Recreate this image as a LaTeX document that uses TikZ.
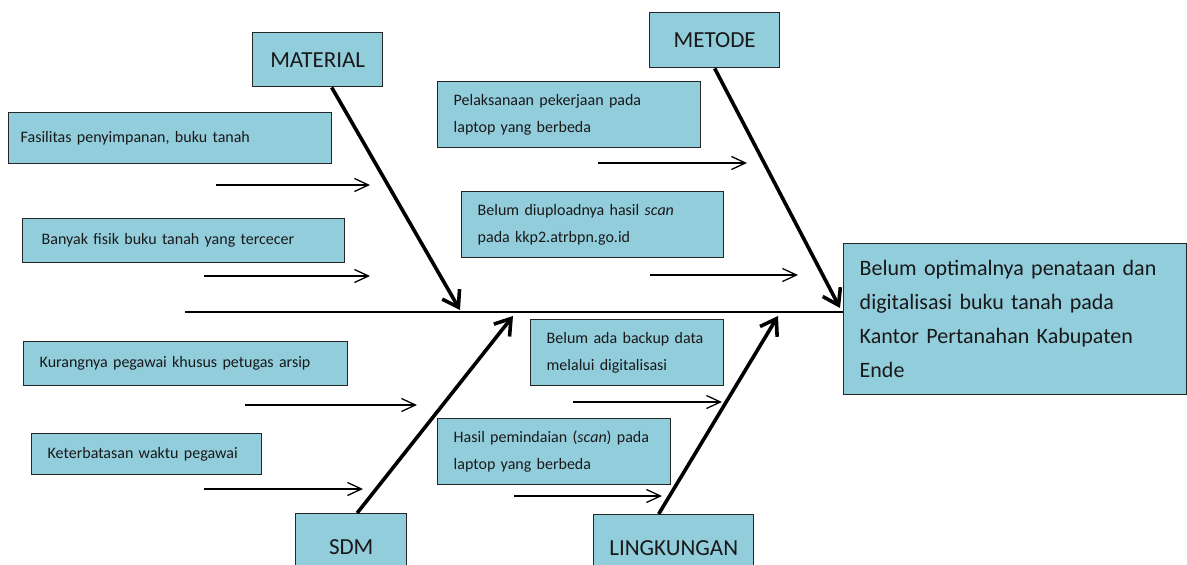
\documentclass[tikz,border=0pt]{standalone}
\usepackage{fontspec}
\setmainfont{Carlito}
\usepackage{xcolor}
\usepackage{tikz}
\usetikzlibrary{arrows.meta, positioning}

\definecolor{boxblue}{RGB}{146,205,220}
\newcommand{\causefont}{\fontsize{16}{27}\selectfont}
\newcommand{\catfont}{\fontsize{23}{26}\selectfont}
\newcommand{\effectfont}{\fontsize{22}{34}\selectfont}

\begin{document}
\begin{tikzpicture}[x=1pt, y=-1pt,
	box/.style={draw=black!85, line width=1.4pt, fill=boxblue, anchor=north west, text=black!90},
	cause/.style={box, inner xsep=16pt, inner ysep=0pt, align=left, font=\causefont},
	category/.style={box, inner sep=0pt, align=center, font=\catfont},
	effect/.style={box, inner xsep=16pt, inner ysep=0pt, align=left, font=\effectfont},
	twig/.style={line width=1.3pt, -{Straight Barb[length=14pt, width=13pt]}},
	bone/.style={line width=3.6pt, -{Straight Barb[length=15pt, width=20pt]}},
	spine/.style={line width=2pt}]
	\useasboundingbox (0,0) rectangle (1187,565);
	\clip (0,0) rectangle (1187,565);

	% akibat
	\node[effect, text width=311pt, minimum height=151pt] (effect) at (843,243)
		{Belum optimalnya penataan dan\\digitalisasi buku tanah pada\\Kantor Pertanahan Kabupaten\\Ende};

	% kategori
	\node[category, minimum width=130pt, minimum height=54pt] (material) at (252,32) {MATERIAL};
	\node[category, minimum width=130pt, minimum height=55pt] (metode) at (649,12) {METODE};
	\node[category, minimum width=111pt, minimum height=67pt] (sdm) at (295,513) {SDM};
	\node[category, minimum width=160pt, minimum height=66pt] (lingkungan) at (593,514) {LINGKUNGAN};

	% sebab
	\node[cause, inner xsep=12pt, text width=299pt, minimum height=51pt] (fasilitas) at (8,112) {Fasilitas penyimpanan, buku tanah};
	\node[cause, inner xsep=19pt, text width=284pt, minimum height=44pt] (banyak) at (22,218) {Banyak fisik buku tanah yang tercecer};
	\node[cause, text width=292pt, minimum height=44pt] (kurang) at (23,341) {Kurangnya pegawai khusus petugas arsip};
	\node[cause, text width=198pt, minimum height=41pt] (terbatas) at (31,433) {Keterbatasan waktu pegawai};
	\node[cause, text width=231pt, minimum height=66pt] (pelaksanaan) at (437,81) {Pelaksanaan pekerjaan pada\\laptop yang berbeda};
	\node[cause, text width=230pt, minimum height=66pt] (upload) at (461,191) {Belum diuploadnya hasil \emph{scan}\\pada kkp2.atrbpn.go.id};
	\node[cause, text width=161pt, minimum height=66pt] (backup) at (530,319) {Belum ada backup data\\melalui digitalisasi};
	\node[cause, text width=201pt, minimum height=66pt] (hasil) at (437,418) {Hasil pemindaian (\emph{scan}) pada\\laptop yang berbeda};

	% tulang utama
	\coordinate (tail) at (185,312);
	\draw[spine] (tail) -- (effect.west |- tail);

	\coordinate (materialTip) at (460,310);
	\coordinate (metodeTip) at (840,308);
	\coordinate (sdmTip) at (513,316);
	\coordinate (lingkunganTip) at (778,316);
	\draw[bone] ([xshift=14pt]material.south) -- (materialTip);
	\draw[bone] (metode.south) -- (metodeTip);
	\draw[bone] ([xshift=6pt]sdm.north) -- (sdmTip);
	\draw[bone] ([xshift=-15pt]lingkungan.north) -- (lingkunganTip);

	% panah sebab
	\foreach \n/\xa/\xb/\y in {fas/216/370/185, ban/204/370/276, pel/598/747/163, upl/650/798/275,
		kur/245/417/405, ket/204/363/489, bkp/573/722/402, has/514/662/496}{
		\coordinate (\n-s) at (\xa,\y);
		\coordinate (\n-e) at (\xb,\y);
		\draw[twig] (\n-s) -- (\n-e);
	}
\end{tikzpicture}
\end{document}
